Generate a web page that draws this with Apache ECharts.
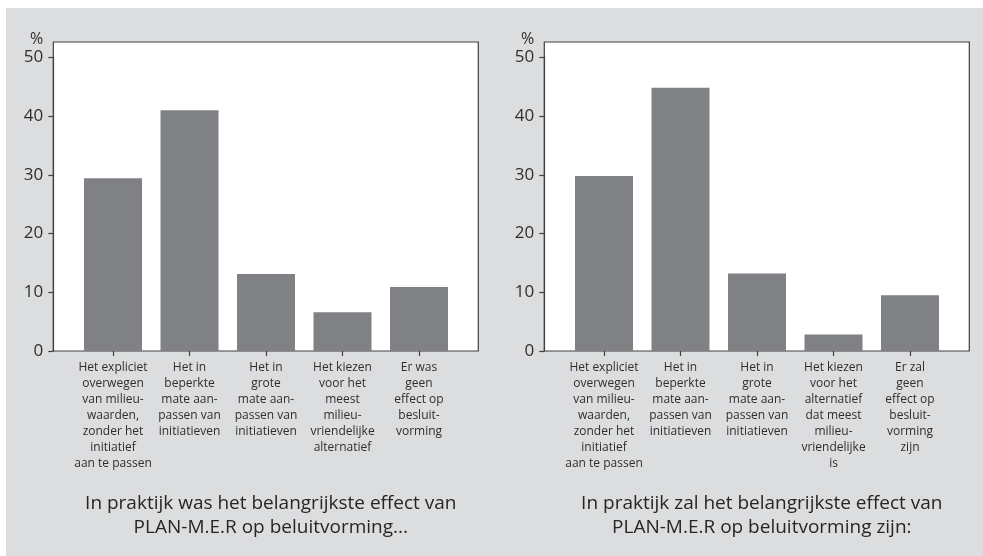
<!DOCTYPE html>
<html>
<head>
<meta charset="utf-8">
<script src="https://cdn.jsdelivr.net/npm/echarts@6/dist/echarts.min.js"></script>
<style>
  html, body { margin: 0; padding: 0; background: #ffffff; }
  #chart { position: absolute; left: 6px; top: 8px; width: 977px; height: 548px; }
</style>
</head>
<body>
<div id="chart"></div>
<script>
// Categories (x axis) for both panels
const categoriesPast = [
  'Het expliciet\noverwegen\nvan milieu-\nwaarden,\nzonder het\ninitiatief\naan te passen',
  'Het in\nbeperkte\nmate aan-\npassen van\ninitiatieven',
  'Het in\ngrote\nmate aan-\npassen van\ninitiatieven',
  'Het kiezen\nvoor het\nmeest\nmilieu-\nvriendelijke\nalternatief',
  'Er was\ngeen\neffect op\nbesluit-\nvorming'
];
const categoriesFuture = [
  'Het expliciet\noverwegen\nvan milieu-\nwaarden,\nzonder het\ninitiatief\naan te passen',
  'Het in\nbeperkte\nmate aan-\npassen van\ninitiatieven',
  'Het in\ngrote\nmate aan-\npassen van\ninitiatieven',
  'Het kiezen\nvoor het\nalternatief\ndat meest\nmilieu-\nvriendelijke\nis',
  'Er zal\ngeen\neffect op\nbesluit-\nvorming\nzijn'
];

// Percentages per category
const valuesPast = [29.4, 41.0, 13.1, 6.6, 10.9];
const valuesFuture = [29.8, 44.8, 13.2, 2.8, 9.5];

// Y axis scale
const yMin = 0;
const yMax = 50;
const yStep = 10;

// Panel captions
const titlePast = 'In praktijk was het belangrijkste effect van\nPLAN-M.E.R op beluitvorming...';
const titleFuture = 'In praktijk zal het belangrijkste effect van\nPLAN-M.E.R op beluitvorming zijn:';

const FONT = 'Open Sans';
const INK = '#2e2e2e';
const LINE = '#404040';
const BAR = '#808184';

// Geometry of one panel: a framed box plus a narrower inner grid for the bars
const boxTop = 34, boxHeight = 309, boxWidth = 425;
const barsTop = 49.3, barsHeight = 293.7, barsWidth = 382.5, barsInset = 21.45;
const panelLefts = [47.3, 538.3];

const grids = [];
const xAxes = [];
const yAxes = [];
const series = [];
const titles = [];

[[categoriesPast, valuesPast, titlePast], [categoriesFuture, valuesFuture, titleFuture]].forEach(([cats, vals, caption], i) => {
  const left = panelLefts[i];
  const boxIdx = grids.length;
  grids.push({
    left: left, top: boxTop, width: boxWidth, height: boxHeight,
    show: true, backgroundColor: '#ffffff', borderColor: LINE, borderWidth: 1.2
  });
  xAxes.push({ gridIndex: boxIdx, type: 'value', show: false, min: 0, max: 1 });
  yAxes.push({ gridIndex: boxIdx, type: 'value', show: false, min: 0, max: 1 });

  const barIdx = grids.length;
  grids.push({ left: left + barsInset, top: barsTop, width: barsWidth, height: barsHeight });
  xAxes.push({
    gridIndex: barIdx, type: 'category', data: cats,
    axisLine: { show: false },
    axisTick: { show: true, alignWithLabel: true, length: 5, lineStyle: { color: LINE, width: 1.2 } },
    axisLabel: {
      interval: 0, margin: 9, color: INK, fontFamily: FONT, fontSize: 12, lineHeight: 16, align: 'center'
    }
  });
  yAxes.push({
    gridIndex: barIdx, type: 'value', min: yMin, max: yMax, interval: yStep,
    offset: barsInset,
    name: '%', nameLocation: 'end', nameGap: 18,
    nameTextStyle: { color: INK, fontFamily: FONT, fontSize: 16, align: 'right', verticalAlign: 'middle', padding: [0, 10, 0, 0] },
    axisLine: { show: true, lineStyle: { color: LINE, width: 1.2 } },
    axisTick: { show: true, length: 5, lineStyle: { color: LINE, width: 1.2 } },
    axisLabel: { color: INK, fontFamily: FONT, fontSize: 17, margin: 10 },
    splitLine: { show: false }
  });
  series.push({
    type: 'bar', xAxisIndex: barIdx, yAxisIndex: barIdx, data: vals,
    barWidth: 58, itemStyle: { color: BAR }, silent: true
  });
  titles.push({
    text: caption, left: left + boxWidth / 2, top: 479, textAlign: 'center',
    textStyle: { color: '#262626', fontFamily: FONT, fontSize: 19, fontWeight: 'normal', lineHeight: 24 }
  });
});

const chart = echarts.init(document.getElementById('chart'), null, { renderer: 'canvas' });
chart.setOption({
  backgroundColor: '#dcdddf',
  animation: false,
  title: titles,
  grid: grids,
  xAxis: xAxes,
  yAxis: yAxes,
  series: series
});
</script>
</body>
</html>
